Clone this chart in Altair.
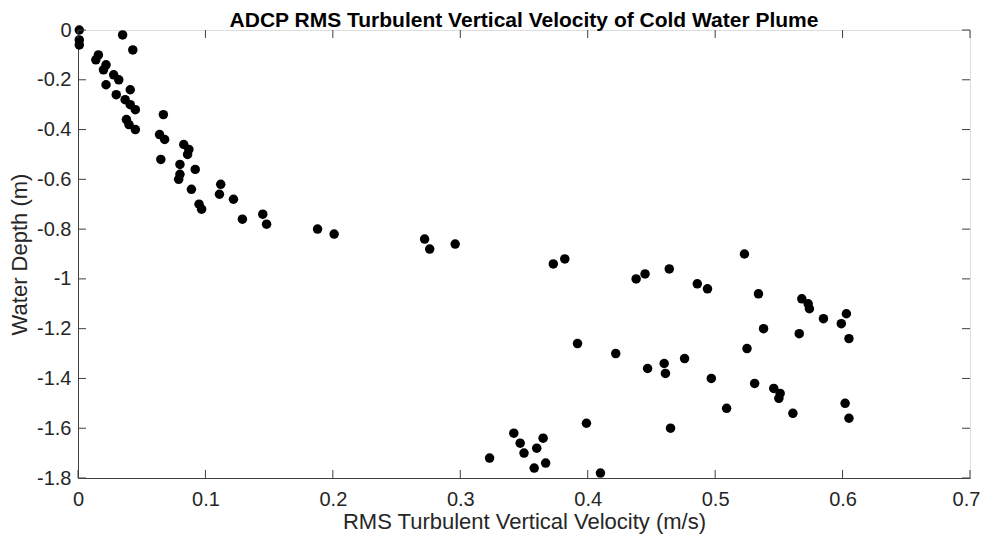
import altair as alt
import pandas as pd

# RMS turbulent vertical velocity (m/s) at each depth (m)
depth = [0.00, -0.02, -0.04, -0.06, -0.08, -0.10, -0.12, -0.14, -0.16, -0.18,
         -0.20, -0.22, -0.24, -0.26, -0.28, -0.30, -0.32, -0.34, -0.36, -0.38,
         -0.40, -0.42, -0.44, -0.46, -0.48, -0.50, -0.52, -0.54, -0.56, -0.58,
         -0.60, -0.62, -0.64, -0.66, -0.68, -0.70, -0.72, -0.74, -0.76, -0.78,
         -0.80, -0.82, -0.84, -0.86, -0.88, -0.90, -0.92, -0.94, -0.96, -0.98,
         -1.00, -1.02, -1.04, -1.06, -1.08, -1.10, -1.12, -1.14, -1.16, -1.18,
         -1.20, -1.22, -1.24, -1.26, -1.28, -1.30, -1.32, -1.34, -1.36, -1.38,
         -1.40, -1.42, -1.44, -1.46, -1.48, -1.50, -1.52, -1.54, -1.56, -1.58,
         -1.60, -1.62, -1.64, -1.66, -1.68, -1.70, -1.72, -1.74, -1.76, -1.78]
velocity = [0.001, 0.035, 0.001, 0.001, 0.043, 0.016, 0.014, 0.022, 0.020, 0.028,
            0.032, 0.022, 0.041, 0.030, 0.037, 0.041, 0.045, 0.067, 0.038, 0.040,
            0.045, 0.064, 0.068, 0.083, 0.087, 0.086, 0.065, 0.080, 0.092, 0.080,
            0.079, 0.112, 0.089, 0.111, 0.122, 0.095, 0.097, 0.145, 0.129, 0.148,
            0.188, 0.201, 0.272, 0.296, 0.276, 0.523, 0.382, 0.373, 0.464, 0.445,
            0.438, 0.486, 0.494, 0.534, 0.568, 0.573, 0.574, 0.603, 0.585, 0.599,
            0.538, 0.566, 0.605, 0.392, 0.525, 0.422, 0.476, 0.460, 0.447, 0.461,
            0.497, 0.531, 0.546, 0.551, 0.550, 0.602, 0.509, 0.561, 0.605, 0.399,
            0.465, 0.342, 0.365, 0.347, 0.360, 0.350, 0.323, 0.367, 0.358, 0.410]

x_ticks = [0, 0.1, 0.2, 0.3, 0.4, 0.5, 0.6, 0.7]
y_ticks = [0, -0.2, -0.4, -0.6, -0.8, -1, -1.2, -1.4, -1.6, -1.8]

W, H = 892, 448
TICK = 8
AX = "#404040"
TXT = "#262626"
FONT = "Liberation Sans"

df = pd.DataFrame({"v": velocity, "d": depth})
xt = pd.DataFrame({"v": x_ticks})
yt = pd.DataFrame({"d": y_ticks})

XT = "RMS Turbulent Vertical Velocity (m/s)"
YT = "Water Depth (m)"

xscale = alt.Scale(domain=[0, 0.7], nice=False, zero=False)
yscale = alt.Scale(domain=[-1.8, 0], nice=False, zero=False)

xaxis = alt.Axis(values=x_ticks, labelExpr="'' + datum.value", ticks=False, tickSize=0,
                 grid=False, labelPadding=11, titlePadding=2, labelFontSize=20,
                 titleFontSize=22, labelFont=FONT, titleFont=FONT, labelColor=TXT,
                 titleColor=TXT, titleFontWeight="normal", domainColor=AX,
                 labelFlush=False, labelOverlap=False,
                 labelOffset=alt.condition("datum.value >= 0.7", alt.value(-4), alt.value(0)))
yaxis = alt.Axis(values=y_ticks, labelExpr="'' + datum.value", ticks=False, tickSize=0,
                 grid=False, labelPadding=7, titlePadding=5, labelFontSize=20,
                 titleFontSize=22, labelFont=FONT, titleFont=FONT, labelColor=TXT,
                 titleColor=TXT, titleFontWeight="normal", domainColor=AX,
                 labelFlush=False, labelOverlap=False)

points = alt.Chart(df).mark_circle(size=90, color="black", opacity=1).encode(
    x=alt.X("v:Q", scale=xscale, axis=xaxis, title=XT),
    y=alt.Y("d:Q", scale=yscale, axis=yaxis, title=YT),
)

bottom_ticks = alt.Chart(xt).mark_rule(color=AX, strokeWidth=1).encode(
    x=alt.X("v:Q", scale=xscale, title=XT),
    y=alt.value(H), y2=alt.value(H - TICK),
)
top_ticks = alt.Chart(xt).mark_rule(color=AX, strokeWidth=1).encode(
    x=alt.X("v:Q", scale=xscale, title=XT),
    y=alt.value(0), y2=alt.value(TICK),
)
left_ticks = alt.Chart(yt).mark_rule(color=AX, strokeWidth=1).encode(
    y=alt.Y("d:Q", scale=yscale, title=YT),
    x=alt.value(0), x2=alt.value(TICK),
)
right_ticks = alt.Chart(yt).mark_rule(color=AX, strokeWidth=1).encode(
    y=alt.Y("d:Q", scale=yscale, title=YT),
    x=alt.value(W), x2=alt.value(W - TICK),
)

chart = alt.layer(points, bottom_ticks, top_ticks, left_ticks, right_ticks).properties(
    width=W, height=H,
    title=alt.TitleParams("ADCP RMS Turbulent Vertical Velocity of Cold Water Plume",
                          font=FONT, fontSize=21, fontWeight="bold", color="black",
                          anchor="middle", offset=-11),
    autosize=alt.AutoSizeParams(type="none"),
    padding={"left": 70, "top": 22, "right": 11, "bottom": 56},
).configure_view(stroke=AX, strokeWidth=1).configure(background="white")

chart.save("out.html", embed_options={"renderer": "svg", "actions": False})
